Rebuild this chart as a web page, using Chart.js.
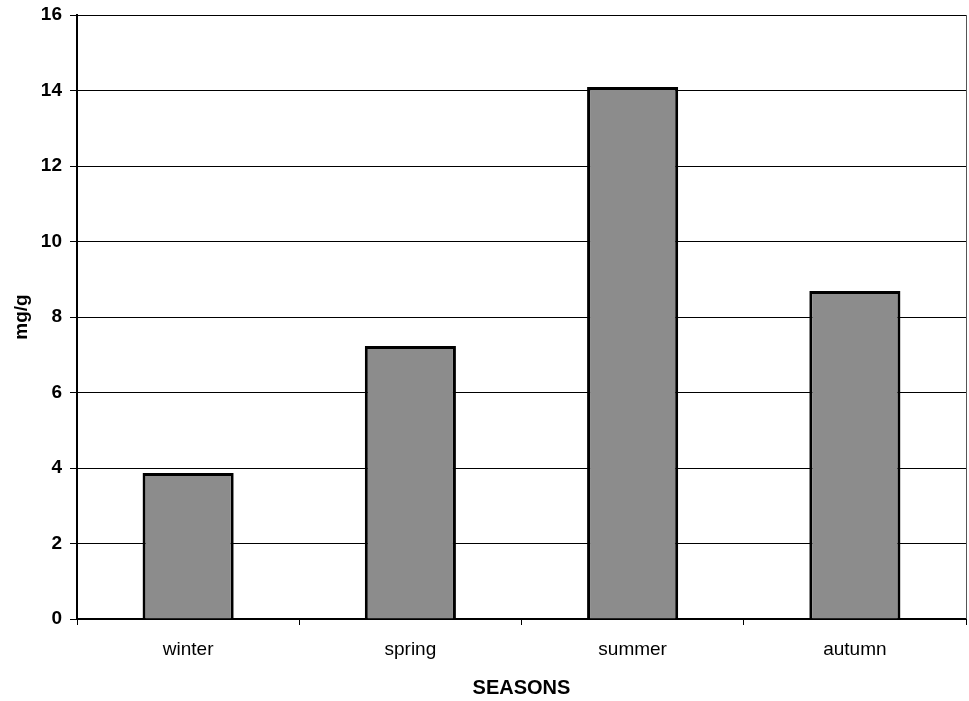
<!DOCTYPE html>
<html>
<head>
<meta charset="utf-8">
<script src="https://cdn.jsdelivr.net/npm/chart.js@4/dist/chart.umd.min.js"></script>
<style>
  html, body { margin: 0; padding: 0; background: #fff; }
  #wrap { width: 969px; height: 701px; }
</style>
</head>
<body>
<div id="wrap"><canvas id="c" width="969" height="701"></canvas></div>
<script>
// Seasonal concentration (mg/g)
const seasons = ['winter', 'spring', 'summer', 'autumn'];
const concentration = [3.87, 7.23, 14.09, 8.69];
const yMin = 0, yMax = 16, yStep = 2;

const FONT = 'Liberation Sans, Arial, sans-serif';

// Thin frame line on the right side of the plot area
const rightFrame = {
  id: 'rightFrame',
  afterDraw(chart) {
    const { ctx, chartArea } = chart;
    ctx.save();
    ctx.strokeStyle = '#555';
    ctx.lineWidth = 1;
    ctx.beginPath();
    ctx.moveTo(chartArea.right + 0.5, chartArea.top);
    ctx.lineTo(chartArea.right + 0.5, chartArea.bottom);
    ctx.stroke();
    ctx.restore();
  }
};

new Chart(document.getElementById('c'), {
  type: 'bar',
  data: {
    labels: seasons,
    datasets: [{
      data: concentration,
      backgroundColor: '#8c8c8c',
      borderColor: '#000',
      borderWidth: 3,
      barPercentage: 0.41,
      categoryPercentage: 1.0
    }]
  },
  options: {
    responsive: false,
    animation: false,
    layout: { padding: { top: 15, right: 3, left: 0, bottom: 0 } },
    plugins: { legend: { display: false }, tooltip: { enabled: false } },
    scales: {
      x: {
        afterFit(scale) { scale.height = 82; },
        border: { display: true, color: '#000', width: 2 },
        grid: { display: true, drawOnChartArea: false, color: '#000', tickLength: 6, lineWidth: 1 },
        ticks: {
          color: '#000',
          padding: 13,
          font: { family: FONT, size: 19 }
        },
        title: {
          display: true,
          text: 'SEASONS',
          color: '#000',
          padding: { top: 0, bottom: 1 },
          font: { family: FONT, size: 20, weight: 'bold' }
        }
      },
      y: {
        min: yMin,
        max: yMax,
        afterFit(scale) {
          scale.width = 77;
          scale.paddingTop = 0;
          scale.paddingBottom = 0;
        },
        border: { display: true, color: '#000', width: 2 },
        grid: { color: '#000', lineWidth: 1, tickLength: 7 },
        ticks: {
          stepSize: yStep,
          color: '#000',
          padding: 8,
          font: { family: FONT, size: 19, weight: 'bold' }
        },
        title: {
          display: true,
          text: 'mg/g',
          color: '#000',
          padding: { top: 10, bottom: 0 },
          font: { family: FONT, size: 19, weight: 'bold' }
        }
      }
    }
  },
  plugins: [rightFrame]
});
</script>
</body>
</html>
